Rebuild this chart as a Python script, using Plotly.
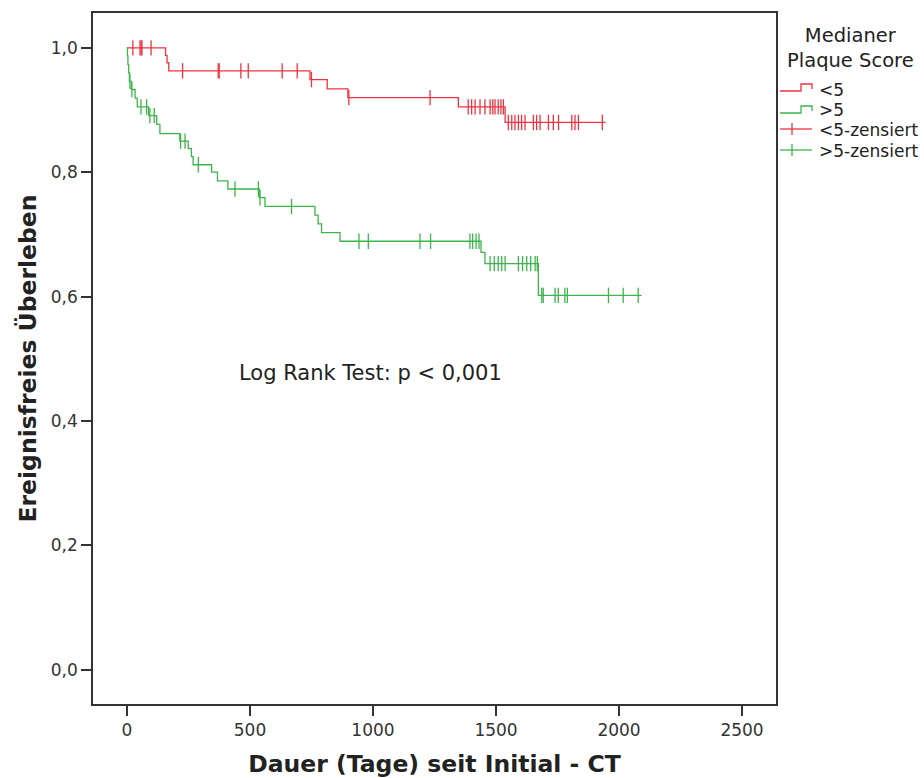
import plotly.graph_objects as go

# ---- data ----
red_t = [0, 157, 163, 170, 744, 814, 898, 1347, 1537, 1945]
red_s = [1.0, 0.988, 0.976, 0.963, 0.949, 0.934, 0.920, 0.905, 0.880, 0.880]

red_cens_t = [24, 53, 58, 61, 98,
              226, 371, 375, 463, 493, 631, 692,
              750,
              902, 1232,
              1387, 1401, 1415, 1435, 1455, 1476, 1487, 1496, 1509, 1520, 1530,
              1550, 1564, 1577, 1591, 1604, 1618, 1652, 1665, 1679, 1713, 1733, 1754,
              1808, 1821, 1835, 1932]
red_cens_s = [1.0] * 5 + [0.963] * 7 + [0.949] + [0.920] * 2 + [0.905] * 11 + [0.880] * 16

green_t = [0, 2, 4, 7, 10, 18, 33, 42, 88, 121, 134, 215, 249, 262, 269, 344, 368,
           410, 538, 561, 764, 777, 791, 866, 1439, 1455, 1672, 2092]
green_s = [1.0, 0.987, 0.973, 0.960, 0.946, 0.933, 0.919, 0.905, 0.891, 0.877, 0.862,
           0.850, 0.838, 0.825, 0.812, 0.800, 0.786, 0.773, 0.759, 0.745, 0.731, 0.717,
           0.703, 0.689, 0.671, 0.653, 0.602, 0.602]

green_cens_t = [12, 20, 57, 80, 93, 111, 218, 236, 290, 439, 534, 541, 669,
                943, 981, 1191, 1234, 1394, 1405, 1419, 1431,
                1476, 1493, 1509, 1523, 1537, 1591, 1608, 1625, 1641, 1659, 1668,
                1686, 1692, 1740, 1753, 1780, 1790, 1957, 2017, 2078]
green_cens_s = ([0.946, 0.933, 0.905, 0.905, 0.891, 0.891, 0.850, 0.850, 0.812,
                 0.773, 0.773, 0.759, 0.745] + [0.689] * 8 + [0.653] * 11 + [0.602] * 9)

x_ticks = [0, 500, 1000, 1500, 2000, 2500]
y_ticks = [0.0, 0.2, 0.4, 0.6, 0.8, 1.0]

legend_title = "Medianer<br>Plaque Score"
legend_labels = ["<5", ">5", "<5-zensiert", ">5-zensiert"]

RED = "#ee3340"
GREEN = "#3db54a"
FONT = "DejaVu Sans"

W, H = 924, 778
ML, MR, MT, MB = 93, 148, 13, 74
PW, PH = W - ML - MR, H - MT - MB


def px(x):
    return (x - ML) / PW


def py(y):
    return (H - MB - y) / PH


fig = go.Figure()
fig.add_trace(go.Scatter(x=red_t, y=red_s, mode="lines", line=dict(color=RED, width=1.3, shape="hv"),
                         name=legend_labels[0], showlegend=False))
fig.add_trace(go.Scatter(x=green_t, y=green_s, mode="lines", line=dict(color=GREEN, width=1.3, shape="hv"),
                         name=legend_labels[1], showlegend=False))
fig.add_trace(go.Scatter(x=red_cens_t, y=red_cens_s, mode="markers",
                         marker=dict(symbol="line-ns-open", size=11, color=RED,
                                     line=dict(color=RED, width=1.3)),
                         name=legend_labels[2], showlegend=False))
fig.add_trace(go.Scatter(x=green_cens_t, y=green_cens_s, mode="markers",
                         marker=dict(symbol="line-ns-open", size=11, color=GREEN,
                                     line=dict(color=GREEN, width=1.3)),
                         name=legend_labels[3], showlegend=False))

axis_common = dict(showline=True, linecolor="#333333", linewidth=1.5, mirror=True,
                   ticks="outside", ticklen=10, tickwidth=1.5, tickcolor="#333333",
                   showgrid=False, zeroline=False, automargin=False,
                   tickfont=dict(family=FONT, size=17, color="#333333"))

fig.update_xaxes(range=[-138, 2638], tickvals=x_ticks, ticktext=[str(v) for v in x_ticks],
                 title=dict(text="Dauer (Tage) seit Initial - CT", standoff=18,
                            font=dict(family=FONT, size=23.5, color="#222222", weight="bold")),
                 **axis_common)
fig.update_yaxes(range=[-0.055, 1.056], tickvals=y_ticks, tickformat=".1f",
                 title=dict(text="Ereignisfreies Überleben", standoff=8,
                            font=dict(family=FONT, size=23.5, color="#222222", weight="bold")),
                 **axis_common)

fig.add_annotation(x=988, y=0.477, xref="x", yref="y", text="Log Rank Test: p &lt; 0,001",
                   showarrow=False, font=dict(family=FONT, size=21, color="#222222"))

# ---- manual legend ----
shapes = []
for col, yb, yt in [(RED, 91, 84), (GREEN, 113, 106)]:
    path = (f"M {px(780)},{py(yb)} L {px(801)},{py(yb)} L {px(801)},{py(yt)} "
            f"L {px(812)},{py(yt)} L {px(812)},{py(yb - 2)}")
    shapes.append(dict(type="path", path=path, xref="paper", yref="paper",
                       line=dict(color=col, width=1.3)))
for col, yc in [(RED, 129), (GREEN, 150)]:
    shapes.append(dict(type="line", xref="paper", yref="paper", x0=px(780), x1=px(812),
                       y0=py(yc), y1=py(yc), line=dict(color=col, width=1.3)))
    shapes.append(dict(type="line", xref="paper", yref="paper", x0=px(792), x1=px(792),
                       y0=py(yc - 6), y1=py(yc + 6), line=dict(color=col, width=1.3)))
fig.update_layout(shapes=shapes)

fig.add_annotation(x=px(850), y=py(48), xref="paper", yref="paper", text=legend_title,
                   showarrow=False, xanchor="center", yanchor="middle", align="center",
                   font=dict(family=FONT, size=19.5, color="#222222"))
for lab, yc in zip(legend_labels, [90, 110, 130, 151]):
    fig.add_annotation(x=px(817), y=py(yc), xref="paper", yref="paper", text=lab.replace("<", "&lt;"),
                       showarrow=False, xanchor="left", yanchor="middle",
                       font=dict(family=FONT, size=17, color="#222222"))

fig.update_layout(width=W, height=H, margin=dict(l=ML, r=MR, t=MT, b=MB, autoexpand=False),
                  paper_bgcolor="white", plot_bgcolor="white", separators=",.",
                  showlegend=False)

fig.write_html("out.html", config={"displayModeBar": False},
               post_script="document.body.style.margin='0px';")
